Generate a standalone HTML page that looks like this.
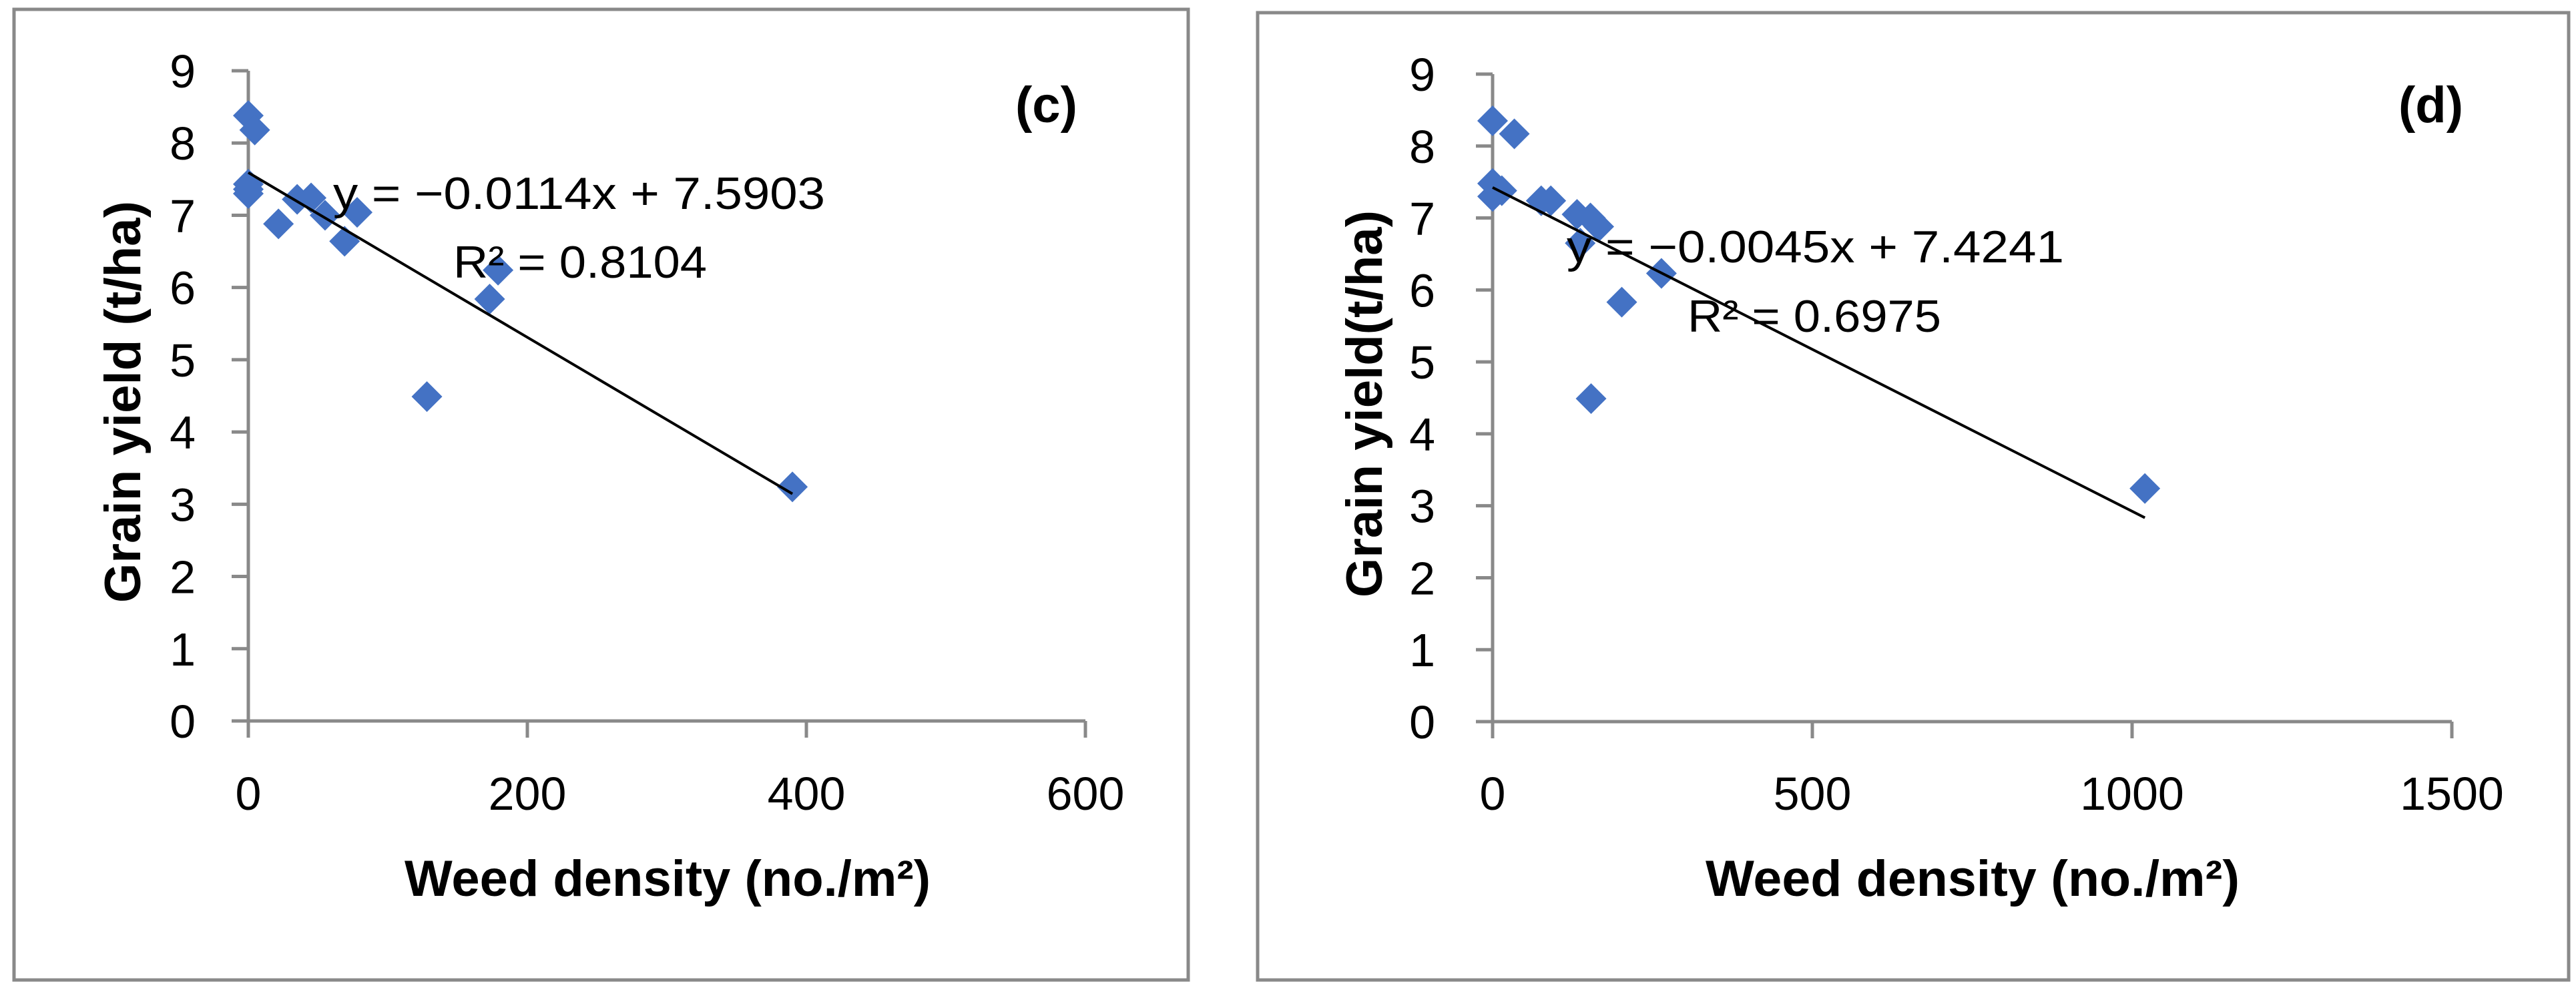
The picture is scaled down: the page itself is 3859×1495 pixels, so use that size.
<!DOCTYPE html>
<html><head><meta charset="utf-8"><style>
html,body{margin:0;padding:0;background:#fff;}
svg{display:block;font-family:"Liberation Sans",sans-serif;}
</style></head><body>
<svg id="chart" width="3859" height="1495" viewBox="0 0 3859 1495" xmlns="http://www.w3.org/2000/svg">
<rect x="21" y="14" width="1759" height="1454" fill="#fff" stroke="#898989" stroke-width="5"/>
<rect x="1884" y="19" width="1964" height="1449" fill="#fff" stroke="#898989" stroke-width="5"/>
<g id="pc"></g>
<g id="pd"></g>
</svg>
<script>
const cX = [0, 4.6, 0, 0, 0, 21.6, 35, 45, 55, 78, 69, 128, 179, 173, 390];
const cY = [8.38, 8.18, 7.43, 7.36, 7.3, 6.88, 7.22, 7.24, 7.0, 7.04, 6.64, 4.49, 6.24, 5.84, 3.24];
const cXTicks = [0, 200, 400, 600];
const dX = [0, 34, 0, 0, 14.4, 76, 91, 132, 153, 166, 137, 264, 202, 154, 1020];
const dY = [8.35, 8.17, 7.48, 7.30, 7.38, 7.24, 7.24, 7.05, 7.0, 6.88, 6.65, 6.23, 5.83, 4.49, 3.24];
const dXTicks = [0, 500, 1000, 1500];
const yTicks = [0, 1, 2, 3, 4, 5, 6, 7, 8, 9];
const cFit = [-0.0114, 7.5903];
const dFit = [-0.0045, 7.4241];

const NS = "http://www.w3.org/2000/svg";
function mk(parent, tag, attrs, text) {
  const e = document.createElementNS(NS, tag);
  for (const k in attrs) e.setAttribute(k, attrs[k]);
  if (text !== undefined) e.textContent = text;
  parent.appendChild(e);
  return e;
}

function drawPanel(g, cfg) {
  const xs = v => cfg.x0 + (v - cfg.xMin) / (cfg.xMax - cfg.xMin) * (cfg.x1 - cfg.x0);
  const ys = v => cfg.y0 - v / 9 * (cfg.y0 - cfg.y1);
  const ax = xs(0), ay = ys(0);
  let e;
  // axes
  e = mk(g, 'line', {x1: ax, y1: ys(9), x2: ax, y2: ay + 25, stroke: '#898989', 'stroke-width': 5});
  
  
  e = mk(g, 'line', {x1: ax - 25, y1: ay, x2: xs(cfg.xTicks[cfg.xTicks.length - 1]), y2: ay, stroke: '#898989', 'stroke-width': 5});
  
  
  yTicks.forEach(t => {
    e = mk(g, 'line', {x1: ax - 25, y1: ys(t), x2: ax, y2: ys(t), stroke: '#898989', 'stroke-width': 5});
    
    
    e = mk(g, 'text', {x: cfg.yLabRight, y: ys(t) + 25, 'font-size': 70, 'text-anchor': 'end', fill: '#000'}, String(t));
    
    
  });
  cfg.xTicks.forEach(t => {
    e = mk(g, 'line', {x1: xs(t), y1: ay, x2: xs(t), y2: ay + 25, stroke: '#898989', 'stroke-width': 5});
    
    
    e = mk(g, 'text', {x: xs(t), y: 1213, 'font-size': 70, 'text-anchor': 'middle', fill: '#000'}, String(t));
    
    
  });
  // points
  cfg.px.forEach((v, i) => {
    const cx = xs(v), cy = ys(cfg.py[i]), r = 23;
    e = mk(g, 'polygon', {points: `${cx},${cy - r} ${cx + r},${cy} ${cx},${cy + r} ${cx - r},${cy}`, fill: '#4472C4'});
    
    
  });
  // trendline
  const xa = 0, xb = Math.max(...cfg.px);
  e = mk(g, 'line', {x1: xs(xa), y1: ys(cfg.fit[1] + cfg.fit[0] * xa), x2: xs(xb), y2: ys(cfg.fit[1] + cfg.fit[0] * xb), stroke: '#000', 'stroke-width': 4});
  
  
  // equation
  e = mk(g, 'text', {x: cfg.eqX, y: cfg.eqY, 'font-size': 68, textLength: cfg.eqW, lengthAdjust: 'spacingAndGlyphs', fill: '#000'}, cfg.eq);
  
  
  e = mk(g, 'text', {x: cfg.r2X, y: cfg.r2Y, 'font-size': 68, textLength: cfg.r2W, lengthAdjust: 'spacingAndGlyphs', fill: '#000'}, cfg.r2);
  
  
  // panel label
  e = mk(g, 'text', {x: cfg.lblX, y: 183, 'font-size': 76, 'font-weight': 'bold', fill: '#000'}, cfg.lbl);
  
  
  // axis titles
  e = mk(g, 'text', {x: cfg.xtX, y: 1342, 'font-size': 76, 'font-weight': 'bold', textLength: cfg.xtW, lengthAdjust: 'spacingAndGlyphs', fill: '#000'}, 'Weed density (no./m²)');
  
  
  e = mk(g, 'text', {x: 0, y: 0, 'font-size': 76, 'font-weight': 'bold', textLength: cfg.ytW, lengthAdjust: 'spacingAndGlyphs', fill: '#000', transform: `translate(${cfg.ytBase},${cfg.ytBottom}) rotate(-90)`}, cfg.yt);
  
  
}

drawPanel(document.getElementById('pc'), {
  x0: 372, x1: 1626, xMin: 0, xMax: 600, y0: 1080, y1: 106,
  xTicks: cXTicks, px: cX, py: cY, fit: cFit, yLabRight: 293,
  eq: 'y = −0.0114x + 7.5903', eqX: 499, eqY: 313, eqW: 737,
  r2: 'R² = 0.8104', r2X: 679, r2Y: 416, r2W: 380,
  lbl: '(c)', lblX: 1521, xtX: 606, xtW: 788,
  yt: 'Grain yield (t/ha)', ytBase: 210, ytBottom: 903, ytW: 602
});
drawPanel(document.getElementById('pd'), {
  x0: 2236, x1: 3673, xMin: 0, xMax: 1500, y0: 1081, y1: 111,
  xTicks: dXTicks, px: dX, py: dY, fit: dFit, yLabRight: 2150,
  eq: 'y = −0.0045x + 7.4241', eqX: 2347, eqY: 393, eqW: 745,
  r2: 'R² = 0.6975', r2X: 2528, r2Y: 497, r2W: 380,
  lbl: '(d)', lblX: 3593, xtX: 2555, xtW: 800,
  yt: 'Grain yield(t/ha)', ytBase: 2070, ytBottom: 895, ytW: 580
});
</script>
</body></html>
